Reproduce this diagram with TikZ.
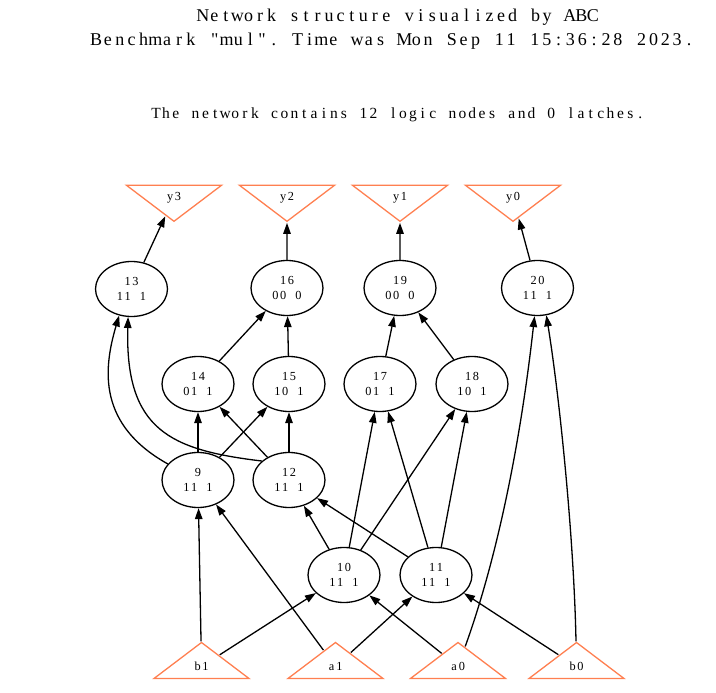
\documentclass[tikz,border=0pt]{standalone}
\usepackage{fontspec}
\usepackage{graphicx}
\usepackage{xcolor}
\newfontfamily\dotfont{Liberation Serif}
\usetikzlibrary{arrows.meta,shapes.geometric}
\definecolor{iocoral}{HTML}{FF7F50}
\ExplSyntaxOn
\NewDocumentCommand \gridtext { m m }
  { \str_map_inline:nn { #2 } { \makebox [ #1 ] [ c ] { ##1 } } }
\ExplSyntaxOff
\newcommand{\cell}[1]{\gridtext{7.7pt}{#1}}
\newcommand{\portlabel}[1]{\scalebox{0.3647}[0.8333]{\cell{#1}}}

\begin{document}
\begin{tikzpicture}[
  x=1pt, y=1pt,
  gate/.style={draw, ellipse, minimum width=72pt, minimum height=55pt,
    inner sep=0pt, align=center, font=\dotfont\fontsize{12.3pt}{14.3pt}\selectfont},
  port/.style={draw=iocoral, regular polygon, regular polygon sides=3,
    minimum size=40pt, inner sep=0pt, xscale=2.7424, yscale=1.2,
    font=\dotfont\fontsize{12.3pt}{14.3pt}\selectfont},
  outport/.style={port, shape border rotate=180},
  inport/.style={port},
  banner/.style={inner sep=0pt, anchor=base west},
  ->,>={Triangle[length=11pt,width=7.5pt]},line width=1.3pt
]
\useasboundingbox (0,0) rectangle (716,-693);
\node[banner, font=\dotfont\fontsize{18pt}{22pt}\selectfont] (title) at (196.5,-21.3)
  {\gridtext{11.47pt}{Network structure visualized by ABC}};
\node[banner, font=\dotfont\fontsize{18pt}{22pt}\selectfont] (bench) at (89.5,-45.5)
  {\gridtext{11.86pt}{Benchmark "mul". Time was Mon Sep 11 15:36:28 2023.}};
\node[banner, font=\dotfont\fontsize{15.5pt}{19pt}\selectfont] (stats) at (150.5,-119)
  {\gridtext{9.88pt}{The network contains 12 logic nodes and 0 latches.}};

\node[outport] (y3) at (174,-197.3) {\portlabel{y3}};
\node[outport] (y2) at (287,-197.3) {\portlabel{y2}};
\node[outport] (y1) at (400,-197.3) {\portlabel{y1}};
\node[outport] (y0) at (513,-197.3) {\portlabel{y0}};

\node[gate] (13) at (131.5,-289) {\cell{13}\\\cell{11 1}};
\node[gate] (16) at (287,-288) {\cell{16}\\\cell{00 0}};
\node[gate] (19) at (400,-288) {\cell{19}\\\cell{00 0}};
\node[gate] (20) at (537.5,-288) {\cell{20}\\\cell{11 1}};
\node[gate] (14) at (198,-384) {\cell{14}\\\cell{01 1}};
\node[gate] (15) at (289,-384) {\cell{15}\\\cell{10 1}};
\node[gate] (17) at (380,-384) {\cell{17}\\\cell{01 1}};
\node[gate] (18) at (472,-384) {\cell{18}\\\cell{10 1}};
\node[gate] (9) at (198,-480) {\cell{9}\\\cell{11 1}};
\node[gate] (12) at (289,-480) {\cell{12}\\\cell{11 1}};
\node[gate] (10) at (344,-575) {\cell{10}\\\cell{11 1}};
\node[gate] (11) at (436,-575) {\cell{11}\\\cell{11 1}};

\node[inport] (b1) at (201.5,-666.5) {\portlabel{b1}};
\node[inport] (a1) at (335.5,-666.5) {\portlabel{a1}};
\node[inport] (a0) at (458,-666.5) {\portlabel{a0}};
\node[inport] (b0) at (576.5,-666.5) {\portlabel{b0}};

\draw (13) -- (y3);
\draw (16) -- (y2);
\draw (19) -- (y1);
\draw (20) -- (y0);
\draw (14) -- (16);
\draw (15) -- (16);
\draw (17) -- (19);
\draw (18) -- (19);
\draw (9.152) .. controls (98,-425) and (103,-370) .. (13.-115);
\draw (12.145) .. controls (170,-450) and (125,-430) .. (13.-97);
\draw (9) -- (14);
\draw (12) -- (14);
\draw (9) -- (15);
\draw (12) -- (15);
\draw (10) -- (17);
\draw (11) -- (17);
\draw (10) -- (18);
\draw (11) -- (18);
\draw (a0) .. controls (500,-550) and (522,-430) .. (20.-96);
\draw (b0) .. controls (574,-540) and (560,-400) .. (20.-72);
\draw (10) -- (12);
\draw (11) -- (12);
\draw (b1) -- (9);
\draw (a1) -- (9);
\draw (b1) -- (10);
\draw (a0) -- (10);
\draw (a1) -- (11);
\draw (b0) -- (11);
\end{tikzpicture}
\end{document}
